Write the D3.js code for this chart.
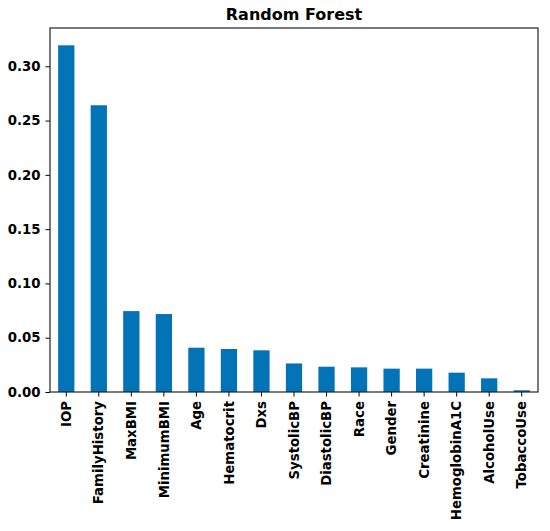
<!DOCTYPE html>
<html>
<head>
<meta charset="utf-8">
<script src="https://cdn.jsdelivr.net/npm/d3@7"></script>
<style>
  body { margin: 0; background: #fff; }
  text { font-family: "DejaVu Sans", sans-serif; font-weight: bold; }
</style>
</head>
<body>
<main></main>
<script>
'use strict';

const features = ["IOP", "FamilyHistory", "MaxBMI", "MinimumBMI", "Age", "Hematocrit", "Dxs",
  "SystolicBP", "DiastolicBP", "Race", "Gender", "Creatinine", "HemoglobinA1C", "AlcoholUse", "TobaccoUse"];
const importance = [0.3193, 0.2641, 0.0745, 0.0718, 0.0408, 0.0396, 0.0384,
  0.0263, 0.0233, 0.0227, 0.0215, 0.0215, 0.0178, 0.0126, 0.0016];
const yTicks = [0.00, 0.05, 0.10, 0.15, 0.20, 0.25, 0.30];

const W = 550, H = 531;
const margin = {top: 28, right: 12, bottom: 139, left: 50};
const width = W - margin.left - margin.right,
  height = H - margin.top - margin.bottom;

const svg = d3.select('main')
  .append('svg')
  .attr('width', W)
  .attr('height', H);

const g = svg.append('g')
  .attr('transform', 'translate(' + margin.left + ',' + margin.top + ')');

const x = d3.scaleBand()
  .domain(features)
  .range([0, width])
  .paddingInner(0.5)
  .paddingOuter(0.25);

const y = d3.scaleLinear()
  .domain([0, d3.max(importance) * 1.05])
  .range([height, 0]);

// bars
g.selectAll('rect.bar')
  .data(features)
  .enter()
  .append('rect')
  .attr('class', 'bar')
  .attr('x', d => x(d))
  .attr('width', x.bandwidth())
  .attr('y', (d, i) => y(importance[i]))
  .attr('height', (d, i) => height - y(importance[i]))
  .attr('fill', '#0173b6');

// axes
const xAxis = g.append('g')
  .attr('transform', 'translate(0,' + height + ')')
  .call(d3.axisBottom(x).tickSize(4.5).tickSizeOuter(0).tickPadding(4.5));
xAxis.select('.domain').remove();
xAxis.selectAll('text')
  .attr('transform', 'rotate(-90)')
  .attr('x', -9)
  .attr('y', 0)
  .attr('dy', '0.35em')
  .style('text-anchor', 'end');

const yAxis = g.append('g')
  .call(d3.axisLeft(y).tickValues(yTicks).tickFormat(d3.format('.2f'))
    .tickSize(4.5).tickPadding(5));
yAxis.select('.domain').remove();

g.selectAll('.tick line').attr('stroke', '#000').attr('stroke-width', 1);
g.selectAll('.tick text').attr('font-size', 13.3).attr('font-family', 'DejaVu Sans')
  .attr('font-weight', 'bold').attr('fill', '#000');

// frame
g.append('rect')
  .attr('x', 0).attr('y', 0)
  .attr('width', width).attr('height', height)
  .attr('fill', 'none')
  .attr('stroke', '#222')
  .attr('stroke-width', 1.2);

// title
svg.append('text')
  .attr('x', margin.left + width / 2)
  .attr('y', margin.top - 8.5)
  .attr('text-anchor', 'middle')
  .style('font-size', '16px')
  .text('Random Forest');
</script>
</body>
</html>
